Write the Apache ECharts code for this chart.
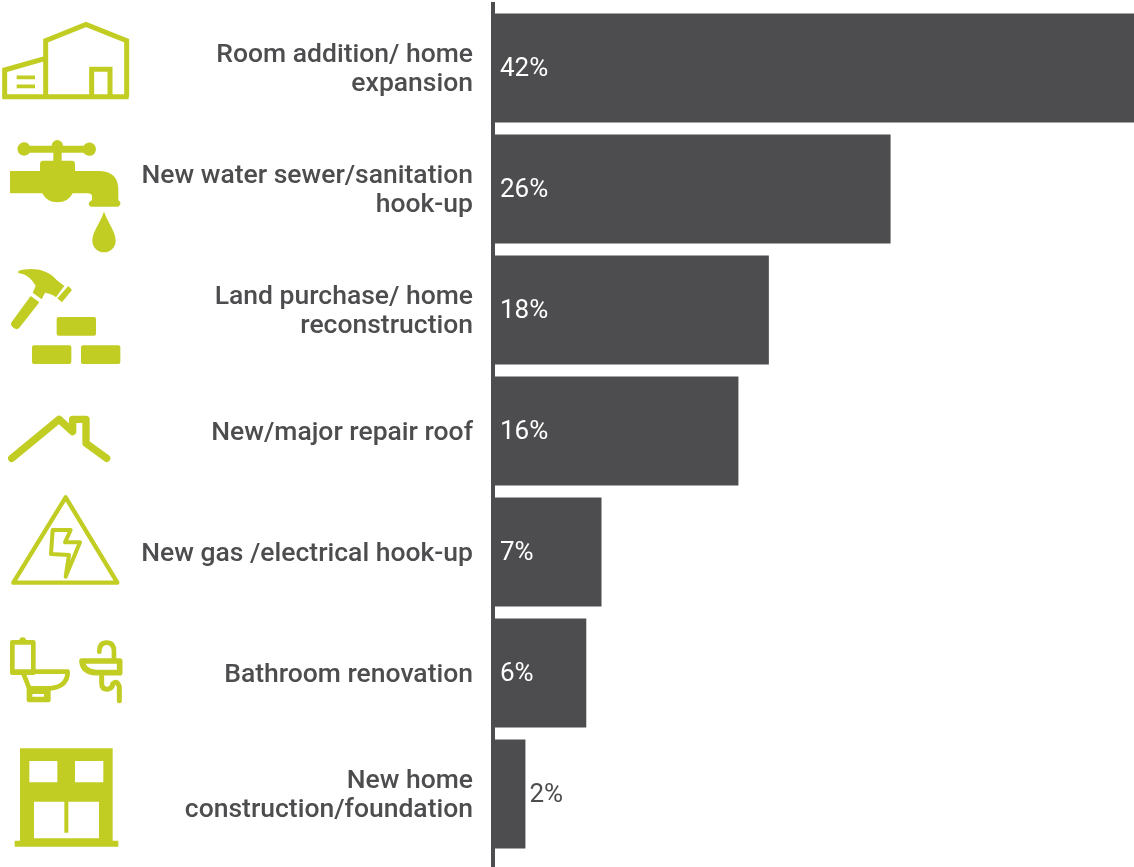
<!DOCTYPE html>
<html>
<head>
<meta charset="utf-8">
<style>html,body{margin:0;padding:0;background:#fff}#chart{width:1134px;height:867px}</style>
<script src="https://cdn.jsdelivr.net/npm/echarts@6/dist/echarts.min.js"></script>
</head>
<body>
<div id="chart"></div>
<script>
const categories = [
  'Room addition/ home\nexpansion',
  'New water sewer/sanitation\nhook-up',
  'Land purchase/ home\nreconstruction',
  'New/major repair roof',
  'New gas /electrical hook-up',
  'Bathroom renovation',
  'New home\nconstruction/foundation'
];
const shares = [42, 26, 18, 16, 7, 6, 2];

const DARK = '#4d4d4f';
const LIME = '#c1cd23';

// Icon outlines are authored on a 3x drawing grid and scaled down as a group.
const filled = d => ({ type: 'path', shape: { pathData: d }, style: { fill: LIME } });
const outlined = (d, w) => ({
  type: 'path',
  shape: { pathData: d },
  style: { fill: 'none', stroke: LIME, lineWidth: w, lineJoin: 'round', lineCap: 'round' }
});
const outlinedMitre = (d, w) => ({
  type: 'path',
  shape: { pathData: d },
  style: { fill: 'none', stroke: LIME, lineWidth: w, lineJoin: 'miter', lineCap: 'butt' }
});
const icon = (y, children) => ({ type: 'group', x: 0, y, scaleX: 1 / 3, scaleY: 1 / 3, children });
const roundRect = (x, y, w, h, r) =>
  `M${x + r} ${y}L${x + w - r} ${y}Q${x + w} ${y} ${x + w} ${y + r}L${x + w} ${y + h - r}Q${x + w} ${y + h} ${x + w - r} ${y + h}L${x + r} ${y + h}Q${x} ${y + h} ${x} ${y + h - r}L${x} ${y + r}Q${x} ${y} ${x + r} ${y}Z`;

const icons = [
  // Workshop with annex
  icon(0, [
    outlinedMitre('M137 290L137 122L258 73L380 122L380 290', 15),
    outlinedMitre('M14 290L14 210L137 175', 15),
    outlinedMitre('M7 290L386 290', 15),
    outlinedMitre('M275 290L275 208L330 208L330 290', 15),
    outlinedMitre('M50 232L105 232M50 259L105 259', 11)
  ]),
  // Tap and drop
  icon(0, [
    filled('M70 427A20 20 0 0 1 89 437L155 437A17 17 0 0 1 189 437L251 437A20 20 0 1 1 251 458L185 458L185 482L215 482Q225 482 225 492L225 513L300 513Q355 515 355 570L355 600Q368 610 355 620L272 620Q258 610 276 600L276 590Q276 580 262 580L218 580Q205 607 172 607Q140 607 127 580L30 580L30 513L120 513L120 492Q120 482 130 482L160 482L160 458L89 458A20 20 0 1 1 70 427Z'),
    filled('M312 635C300 670 277 695 277 722A35 35 0 0 0 347 722C347 695 325 670 312 635Z')
  ]),
  // Hammer and bricks
  icon(260, [
    filled('M55 33C90 22 140 25 170 60L193 78L168 112C160 105 150 100 135 98L125 118L98 98L107 78C95 55 75 40 55 40Z'),
    filled('M205 78L216 90L186 127L172 115Z'),
    filled('M92 108L118 127L57 205Q50 210 42 205L35 198Q30 192 35 186Z'),
    filled(roundRect(170, 171, 118, 56, 6)),
    filled(roundRect(96, 256, 118, 56, 6)),
    filled(roundRect(243, 256, 118, 56, 6))
  ]),
  // Roof with chimney
  icon(260, [
    outlined('M35 595L177 478L218 515L218 478L258 478L258 550L320 595', 22)
  ]),
  // High voltage warning
  icon(260, [
    outlined('M197 712L352 968L40 968Z', 13),
    outlined('M158 810L212 810L195 847L240 847L197 950L207 885L153 882Z', 12)
  ]),
  // Toilet and basin
  icon(620, [
    outlined('M37 67L100 67L100 158L37 158Z', 14),
    filled('M58 62A10 10 0 0 1 78 62Z'),
    outlined('M37 155L203 155Q203 200 150 205L88 205M70 160L88 205', 14),
    filled('M80 200L152 200L152 240Q152 247 145 247L87 247Q80 247 80 240Z' +
      'M97 222L97 230L132 230L132 222Z'),
    outlined('M246 123L359 123L359 158L290 158Q248 156 246 123', 17),
    outlined('M298 95Q298 68 320 68Q342 68 342 95L342 120', 14),
    outlined('M305 170L305 190Q305 208 322 208Q338 205 338 192Q350 178 358 200L358 242', 15)
  ]),
  // Apartment front
  icon(620, [
    filled('M60 385L338 385L338 662L355 662L355 680L44 680L44 662L60 662Z' +
      'M88 423L88 487L172 487L172 423Z' +
      'M225 423L225 487L310 487L310 423Z' +
      'M102 545L102 655L297 655L297 545L205 545L205 638L193 638L193 545Z')
  ])
];

const chart = echarts.init(document.getElementById('chart'), null, { renderer: 'canvas' });
chart.setOption({
  animation: false,
  backgroundColor: '#ffffff',
  // First grid holds the bars; the second carries the category labels, set slightly lower
  grid: [
    { left: 495, top: 7.5, width: 639, height: 847 },
    { left: 495, top: 9.5, width: 639, height: 847 }
  ],
  xAxis: [
    { type: 'value', gridIndex: 0, min: 0, max: 42, show: false },
    { type: 'value', gridIndex: 1, min: 0, max: 42, show: false }
  ],
  yAxis: [
    {
      type: 'category',
      gridIndex: 0,
      inverse: true,
      data: categories,
      axisLine: { show: false },
      axisTick: { show: false },
      axisLabel: { show: false }
    },
    {
      type: 'category',
      gridIndex: 1,
      inverse: true,
      data: categories,
      axisLine: { show: false },
      axisTick: { show: false },
      axisLabel: {
        margin: 22,
        align: 'right',
        color: DARK,
        fontFamily: 'Roboto',
        fontWeight: 500,
        fontSize: 26.5,
        lineHeight: 29
      }
    }
  ],
  series: [{
    type: 'bar',
    xAxisIndex: 0,
    yAxisIndex: 0,
    barWidth: 109,
    itemStyle: { color: DARK },
    data: shares.map(v => ({
      value: v,
      label: v < 5
        ? { position: 'right', distance: 4, color: DARK }
        : { position: 'insideLeft', distance: 5, color: '#ffffff' }
    })),
    label: {
      show: true,
      formatter: '{c}%',
      fontFamily: 'Roboto',
      fontWeight: 400,
      fontSize: 26,
      offset: [0, 1]
    }
  }, {
    // Category pictograms down the left margin
    type: 'custom',
    coordinateSystem: 'none',
    silent: true,
    data: categories,
    renderItem: params => icons[params.dataIndex]
  }],
  graphic: [
    // Baseline runs past the plot area at both ends
    { type: 'rect', shape: { x: 491, y: 2, width: 4, height: 865 }, style: { fill: DARK } }
  ]
});
</script>
</body>
</html>
